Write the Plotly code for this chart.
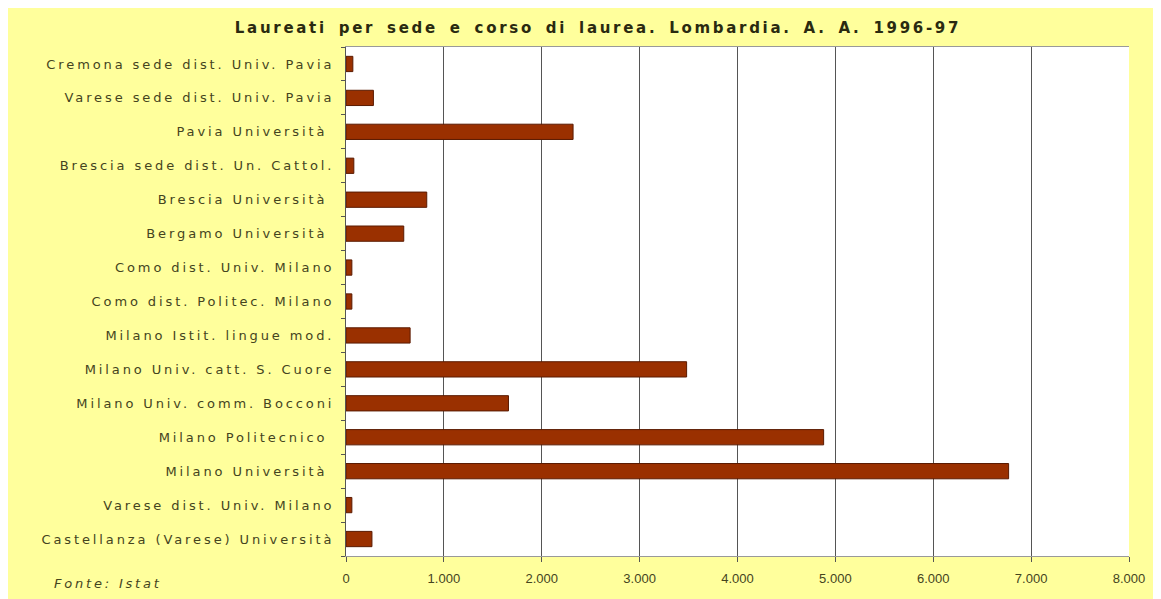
import plotly.graph_objects as go

categories = [
    "Cremona sede dist. Univ. Pavia",
    "Varese sede dist. Univ. Pavia",
    "Pavia Università ",
    "Brescia sede dist. Un. Cattol.",
    "Brescia Università ",
    "Bergamo Università ",
    "Como dist. Univ. Milano",
    "Como dist. Politec. Milano",
    "Milano Istit. lingue mod.",
    "Milano Univ. catt. S. Cuore",
    "Milano Univ. comm. Bocconi",
    "Milano Politecnico ",
    "Milano Università ",
    "Varese dist. Univ. Milano",
    "Castellanza (Varese) Università",
]
laureati = [70, 280, 2320, 80, 825, 590, 60, 60, 655, 3480, 1660, 4880, 6770, 60, 265]

x_ticks = [0, 1000, 2000, 3000, 4000, 5000, 6000, 7000, 8000]

title_text = "Laureati per sede e corso di laurea. Lombardia. A. A. 1996-97"
source_text = "Fonte: Istat"

LS_LABEL = "letter-spacing:2.9px"
LS_TITLE = "letter-spacing:2.7px;word-spacing:4px"
LS_SOURCE = "letter-spacing:2.8px"

W, H = 1161, 599
L, R, T, B = 338, 40, 39, 51

fig = go.Figure()
fig.add_trace(go.Bar(
    y=categories,
    x=laureati,
    orientation="h",
    marker=dict(color="#9a3000", line=dict(color="#5a1a00", width=1)),
    width=0.45,
    hoverinfo="x+y",
))

fig.update_layout(
    width=W, height=H,
    paper_bgcolor="#ffff9c",
    plot_bgcolor="#ffffff",
    separators=",.",
    margin=dict(l=L, r=R, t=T, b=B),
    showlegend=False,
    title=dict(
        text=f"<b><span style='{LS_TITLE}'>{title_text}</span></b>",
        x=590 / W, xanchor="center", xref="container",
        y=1 - 20 / H, yanchor="middle", yref="container",
        font=dict(family="DejaVu Sans, sans-serif", size=15, color="#2a2a10"),
    ),
    font=dict(family="DejaVu Sans, sans-serif", size=13, color="#44441e"),
    xaxis=dict(
        range=[0, 8000],
        tickvals=x_ticks,
        tickformat=",d",
        showgrid=True, gridcolor="#555555", gridwidth=1,
        zeroline=False,
        showline=True, linecolor="#999999", linewidth=1, mirror=True,
        ticks="outside", ticklen=5, tickcolor="#555555",
        ticklabelstandoff=5,
        tickfont=dict(family="Liberation Sans, Arial, sans-serif", size=13, color="#44441e"),
    ),
    yaxis=dict(
        autorange="reversed",
        tickmode="array",
        tickvals=categories,
        ticktext=[f"<span style='{LS_LABEL}'>{c}</span>" for c in categories],
        showgrid=False,
        showline=True, linecolor="#555555", linewidth=1,
        ticks="outside", tickson="boundaries", ticklen=4, tickcolor="#555555",
        ticklabelstandoff=8,
        tickfont=dict(family="DejaVu Sans, sans-serif", size=13, color="#44441e"),
    ),
    annotations=[dict(
        text=f"<i><span style='{LS_SOURCE}'>{source_text}</span></i>",
        xref="paper", yref="paper",
        x=(44 - L) / (W - L - R), xanchor="left",
        y=(H - B - 575) / (H - T - B), yanchor="middle",
        showarrow=False,
        font=dict(family="DejaVu Sans, sans-serif", size=13, color="#44441e"),
    )],
)

fig.write_html("out.html")
